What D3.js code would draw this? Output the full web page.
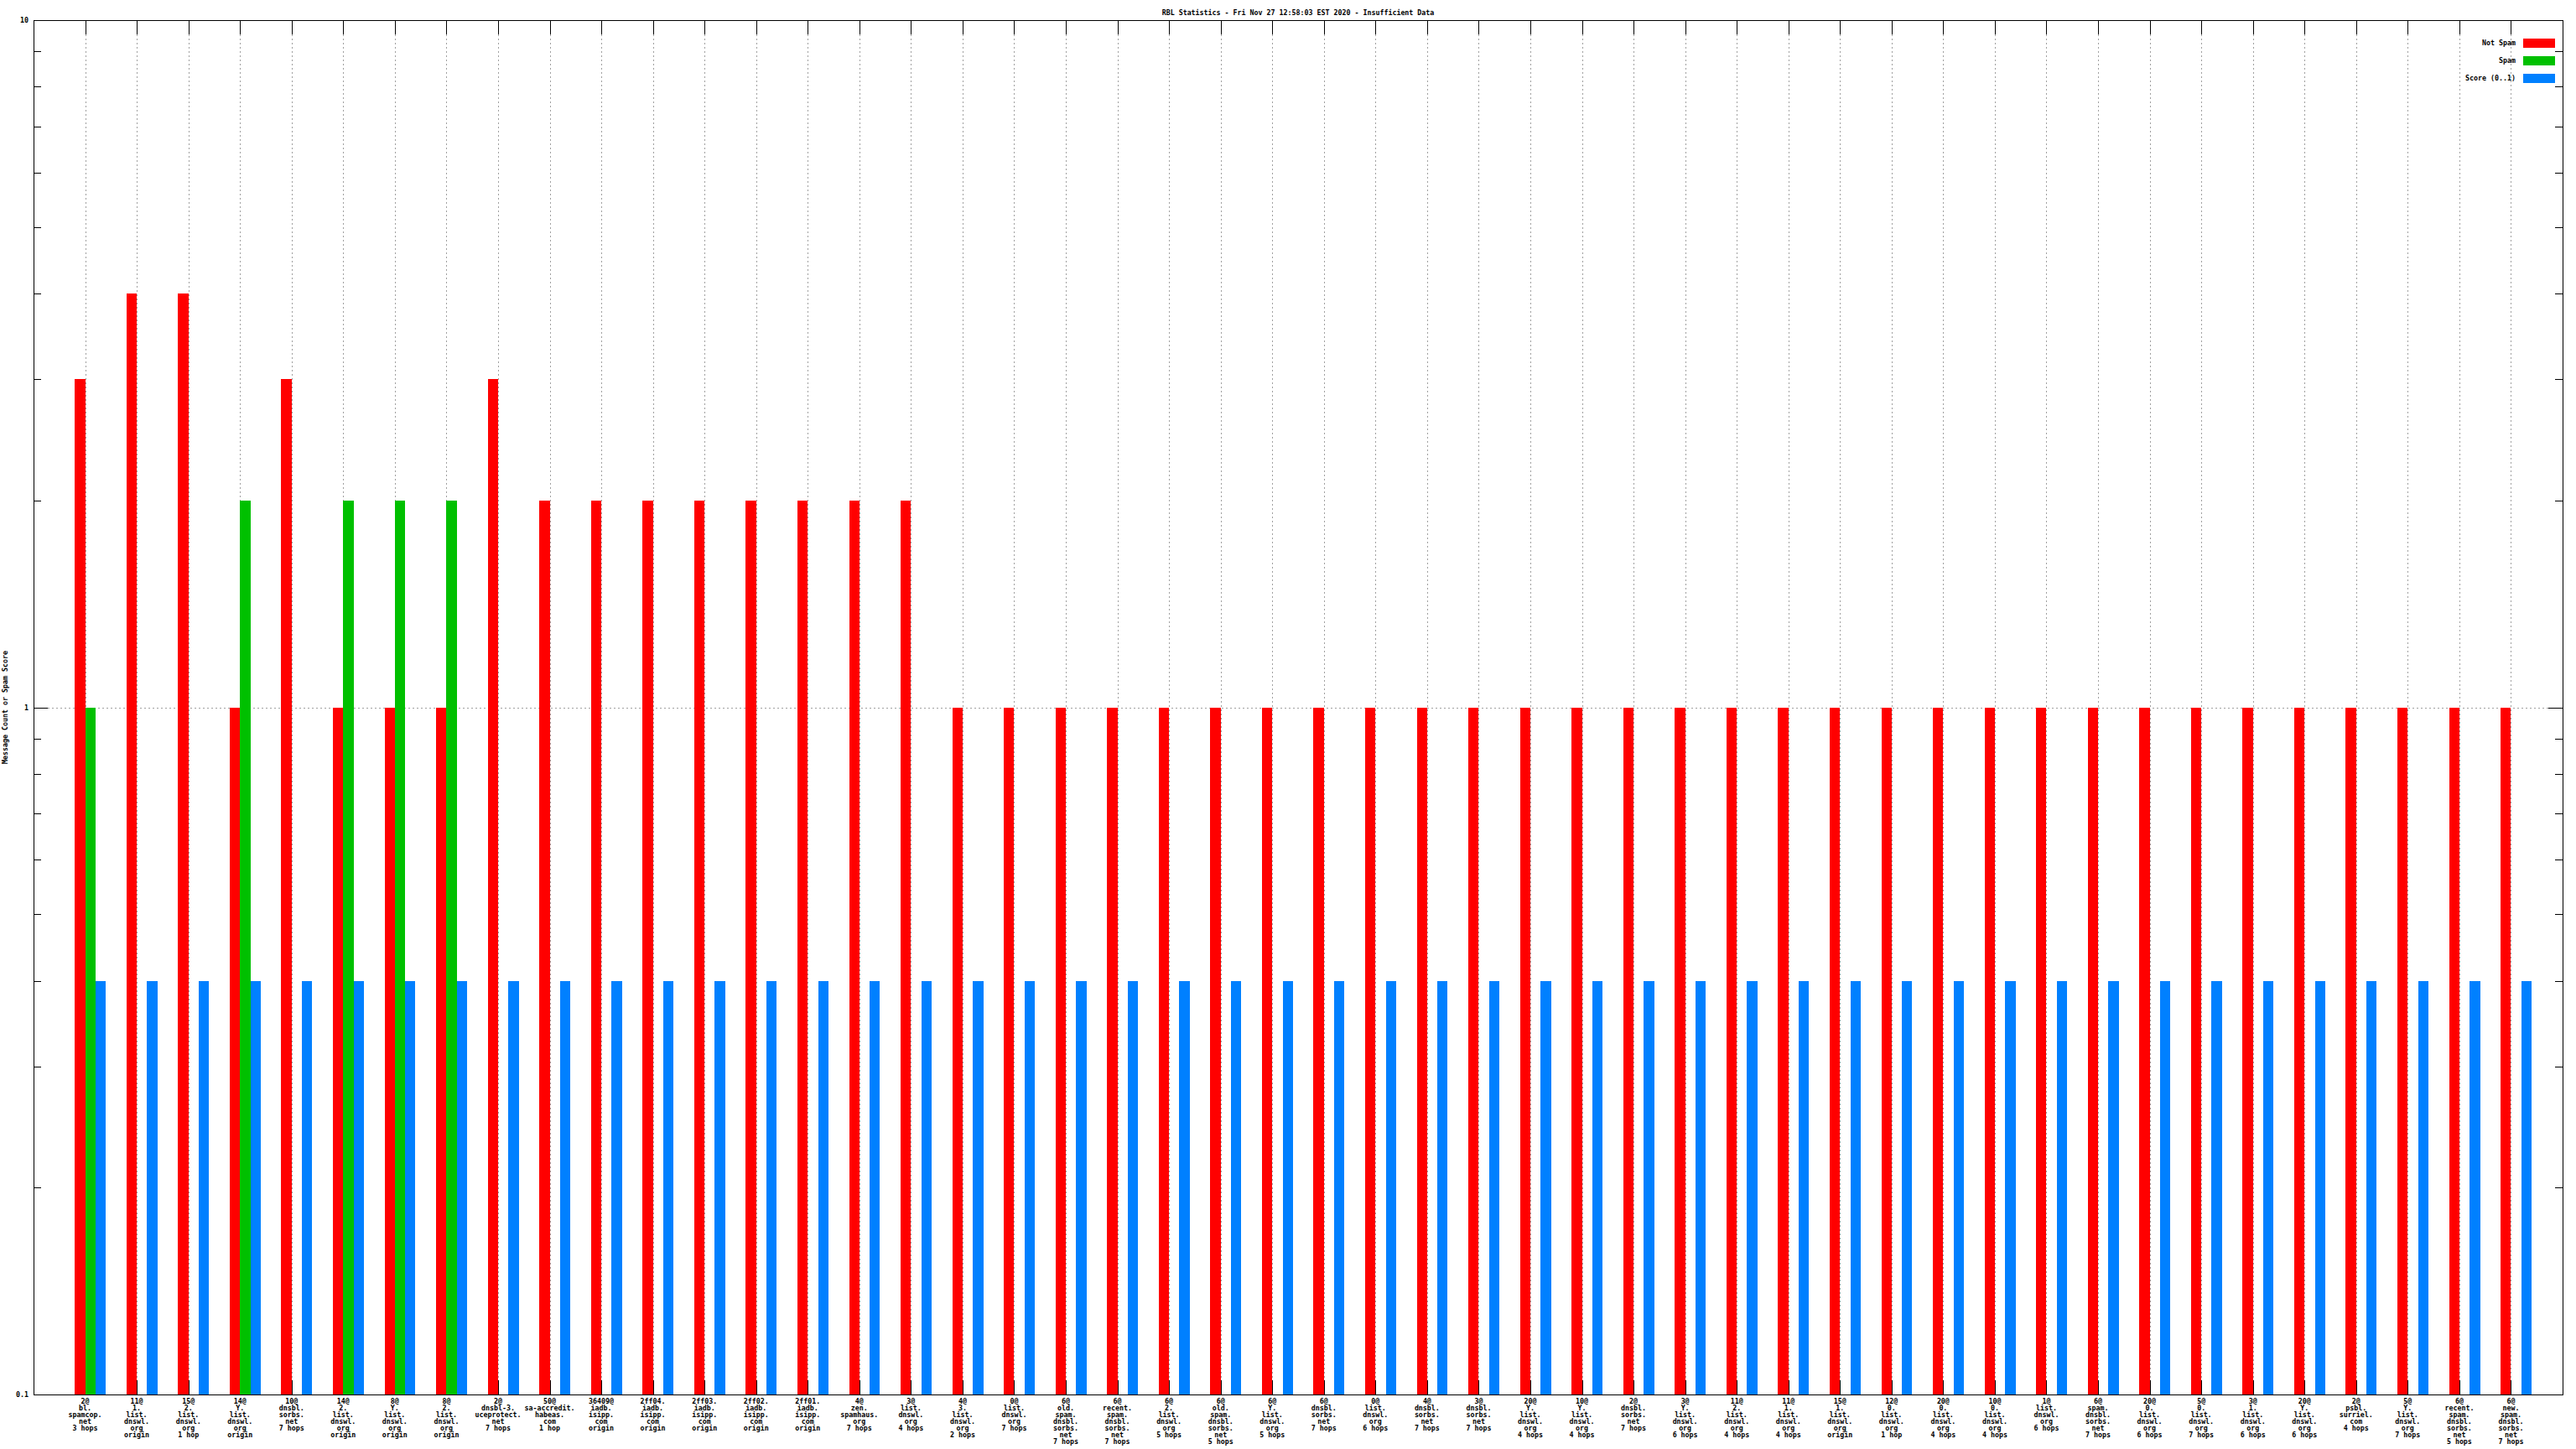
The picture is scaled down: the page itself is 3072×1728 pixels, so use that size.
<!DOCTYPE html>
<html>
<head>
<meta charset="utf-8">
<script src="https://cdn.jsdelivr.net/npm/d3@7"></script>
<style>
html,body{margin:0;padding:0;background:#fff;}
svg{display:block;}
text{font-family:"DejaVu Sans Mono","Liberation Mono",monospace;font-size:8.3px;font-weight:bold;fill:#000;}
</style>
</head>
<body>
<svg id="chart" width="3072" height="1728"></svg>
<script>
const titleText = "RBL Statistics - Fri Nov 27 12:58:03 EST 2020 - Insufficient Data";
const yLabel = "Message Count or Spam Score";
const seriesNames = ["Not Spam", "Spam", "Score (0..1)"];
const seriesColors = ["#ff0000", "#00c000", "#0080ff"];
const yTickValues = [0.1, 1, 10];
const yTickLabels = ["0.1", "1", "10"];

const categories = [
  "2@\nbl.\nspamcop.\nnet\n3 hops",
  "11@\n1.\nlist.\ndnswl.\norg\norigin",
  "15@\n2.\nlist.\ndnswl.\norg\n1 hop",
  "14@\nY.\nlist.\ndnswl.\norg\norigin",
  "10@\ndnsbl.\nsorbs.\nnet\n7 hops",
  "14@\n2.\nlist.\ndnswl.\norg\norigin",
  "8@\nY.\nlist.\ndnswl.\norg\norigin",
  "8@\n2.\nlist.\ndnswl.\norg\norigin",
  "2@\ndnsbl-3.\nuceprotect.\nnet\n7 hops",
  "50@\nsa-accredit.\nhabeas.\ncom\n1 hop",
  "36409@\niadb.\nisipp.\ncom\norigin",
  "2ff04.\niadb.\nisipp.\ncom\norigin",
  "2ff03.\niadb.\nisipp.\ncom\norigin",
  "2ff02.\niadb.\nisipp.\ncom\norigin",
  "2ff01.\niadb.\nisipp.\ncom\norigin",
  "4@\nzen.\nspamhaus.\norg\n7 hops",
  "3@\nlist.\ndnswl.\norg\n4 hops",
  "4@\n3.\nlist.\ndnswl.\norg\n2 hops",
  "0@\nlist.\ndnswl.\norg\n7 hops",
  "6@\nold.\nspam.\ndnsbl.\nsorbs.\nnet\n7 hops",
  "6@\nrecent.\nspam.\ndnsbl.\nsorbs.\nnet\n7 hops",
  "6@\n2.\nlist.\ndnswl.\norg\n5 hops",
  "6@\nold.\nspam.\ndnsbl.\nsorbs.\nnet\n5 hops",
  "6@\nY.\nlist.\ndnswl.\norg\n5 hops",
  "6@\ndnsbl.\nsorbs.\nnet\n7 hops",
  "0@\nlist.\ndnswl.\norg\n6 hops",
  "4@\ndnsbl.\nsorbs.\nnet\n7 hops",
  "3@\ndnsbl.\nsorbs.\nnet\n7 hops",
  "20@\nY.\nlist.\ndnswl.\norg\n4 hops",
  "10@\nY.\nlist.\ndnswl.\norg\n4 hops",
  "2@\ndnsbl.\nsorbs.\nnet\n7 hops",
  "3@\nY.\nlist.\ndnswl.\norg\n6 hops",
  "11@\n2.\nlist.\ndnswl.\norg\n4 hops",
  "11@\n1.\nlist.\ndnswl.\norg\n4 hops",
  "15@\n1.\nlist.\ndnswl.\norg\norigin",
  "12@\n0.\nlist.\ndnswl.\norg\n1 hop",
  "20@\n0.\nlist.\ndnswl.\norg\n4 hops",
  "10@\n0.\nlist.\ndnswl.\norg\n4 hops",
  "1@\nlist.\ndnswl.\norg\n6 hops",
  "6@\nspam.\ndnsbl.\nsorbs.\nnet\n7 hops",
  "20@\n0.\nlist.\ndnswl.\norg\n6 hops",
  "5@\n0.\nlist.\ndnswl.\norg\n7 hops",
  "3@\n1.\nlist.\ndnswl.\norg\n6 hops",
  "20@\nY.\nlist.\ndnswl.\norg\n6 hops",
  "2@\npsbl.\nsurriel.\ncom\n4 hops",
  "5@\nY.\nlist.\ndnswl.\norg\n7 hops",
  "6@\nrecent.\nspam.\ndnsbl.\nsorbs.\nnet\n5 hops",
  "6@\nnew.\nspam.\ndnsbl.\nsorbs.\nnet\n7 hops"
];

const notSpam = [3,4,4,1,3,1,1,1,3,2,2,2,2,2,2,2,2,1,1,1,1,1,1,1,1,1,1,1,1,1,1,1,1,1,1,1,1,1,1,1,1,1,1,1,1,1,1,1];
const spam    = [1,0,0,2,0,2,2,2,0,0,0,0,0,0,0,0,0,0,0,0,0,0,0,0,0,0,0,0,0,0,0,0,0,0,0,0,0,0,0,0,0,0,0,0,0,0,0,0];
const score   = [0.4,0.4,0.4,0.4,0.4,0.4,0.4,0.4,0.4,0.4,0.4,0.4,0.4,0.4,0.4,0.4,0.4,0.4,0.4,0.4,0.4,0.4,0.4,0.4,0.4,0.4,0.4,0.4,0.4,0.4,0.4,0.4,0.4,0.4,0.4,0.4,0.4,0.4,0.4,0.4,0.4,0.4,0.4,0.4,0.4,0.4,0.4,0.4];
const seriesValues = [notSpam, spam, score];

const svg = d3.select("#chart");
const L = 40, R = 3056, T = 24, B = 1663;
const n = categories.length;
const x = d3.scaleLinear().domain([-1, n]).range([L, R]);
const y = d3.scaleLog().domain([0.1, 10]).range([B, T]);
const barW = 0.2;
const offsets = [-0.2, 0, 0.2];

// grid
const grid = svg.append("g").attr("stroke", "#a0a0a0").attr("stroke-dasharray", "2,3").attr("shape-rendering", "crispEdges");
d3.range(n).forEach(i => {
  grid.append("line").attr("x1", Math.round(x(i)) + 0.5).attr("x2", Math.round(x(i)) + 0.5)
    .attr("y1", T + 17).attr("y2", B);
});
grid.append("line").attr("x1", L + 17).attr("x2", R - 17)
  .attr("y1", Math.round(y(1)) + 0.5).attr("y2", Math.round(y(1)) + 0.5);

// ticks
const ticks = svg.append("g").attr("stroke", "#000").attr("shape-rendering", "crispEdges");
d3.range(n).forEach(i => {
  const xx = Math.round(x(i)) + 0.5;
  ticks.append("line").attr("x1", xx).attr("x2", xx).attr("y1", T).attr("y2", T + 17);
  ticks.append("line").attr("x1", xx).attr("x2", xx).attr("y1", B).attr("y2", B - 17);
});
const minor = [];
[0.1, 1].forEach(d => { for (let k = 2; k <= 9; k++) minor.push(d * k); });
minor.forEach(v => {
  const yy = Math.round(y(v)) + 0.5;
  ticks.append("line").attr("x1", L).attr("x2", L + 9).attr("y1", yy).attr("y2", yy);
  ticks.append("line").attr("x1", R).attr("x2", R - 9).attr("y1", yy).attr("y2", yy);
});
yTickValues.forEach(v => {
  const yy = Math.round(y(v)) + 0.5;
  ticks.append("line").attr("x1", L).attr("x2", L + 17).attr("y1", yy).attr("y2", yy);
  ticks.append("line").attr("x1", R).attr("x2", R - 17).attr("y1", yy).attr("y2", yy);
});

// bars
seriesValues.forEach((vals, s) => {
  svg.append("g").attr("fill", seriesColors[s]).attr("shape-rendering", "crispEdges")
    .selectAll("rect").data(vals.map((v, i) => ({v, i})).filter(d => d.v > 0))
    .join("rect")
    .attr("x", d => Math.round(x(d.i + offsets[s])))
    .attr("width", d => Math.round(x(d.i + offsets[s] + barW)) - Math.round(x(d.i + offsets[s])))
    .attr("y", d => Math.round(y(d.v)))
    .attr("height", d => B - Math.round(y(d.v)));
});

// border
svg.append("rect").attr("x", L + 0.5).attr("y", T + 0.5).attr("width", R - L).attr("height", B - T)
  .attr("fill", "none").attr("stroke", "#000").attr("shape-rendering", "crispEdges");

// y tick labels
yTickValues.forEach((v, k) => {
  svg.append("text").attr("x", 34).attr("y", y(v) + 3).attr("text-anchor", "end").text(yTickLabels[k]);
});

// x labels
categories.forEach((c, i) => {
  const t = svg.append("text").attr("text-anchor", "middle");
  c.split("\n").forEach((line, k) => {
    t.append("tspan").attr("x", x(i)).attr("y", 1674 + k * 8.07).text(line);
  });
});

// y axis label
svg.append("text").attr("transform", `translate(9,${(T + B) / 2}) rotate(-90)`)
  .attr("text-anchor", "middle").text(yLabel);

// title
svg.append("text").attr("x", (L + R) / 2).attr("y", 18).attr("text-anchor", "middle").text(titleText);

// legend
seriesNames.forEach((name, s) => {
  const yy = 46 + s * 21;
  svg.append("text").attr("x", 3000).attr("y", yy + 8).attr("text-anchor", "end").text(name);
  svg.append("rect").attr("x", 3009).attr("y", yy).attr("width", 38).attr("height", 11)
    .attr("fill", seriesColors[s]);
});
</script>
</body>
</html>
